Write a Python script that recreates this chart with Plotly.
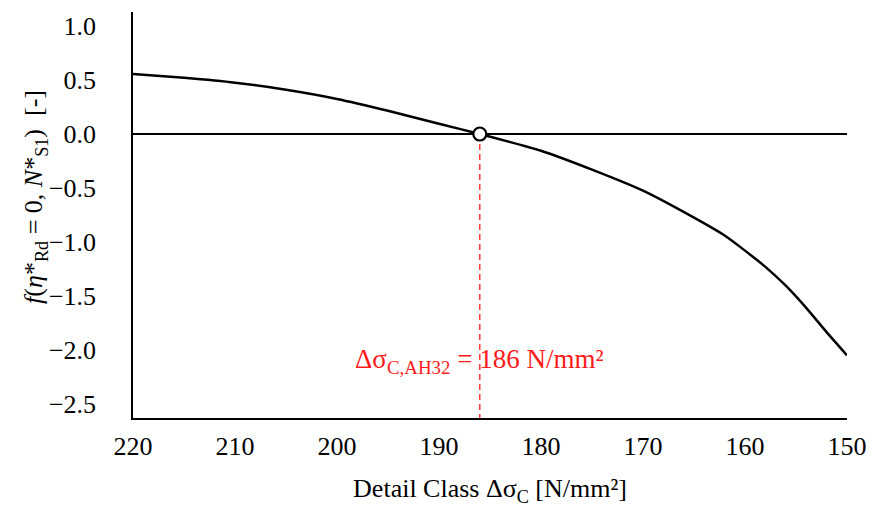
import plotly.graph_objects as go

# Detail class (N/mm^2) and the resulting function value
detail_class = [220, 215, 210, 205, 200, 195, 190, 186, 180, 175, 170,
                165, 162, 160, 158, 156, 154, 152, 150]
f_value = [0.556, 0.52, 0.475, 0.41, 0.325, 0.215, 0.095, 0.0, -0.155,
           -0.33, -0.525, -0.775, -0.94, -1.08, -1.23, -1.405, -1.61,
           -1.835, -2.05]

# Root of the function: detail class for AH32
root_x = 186
root_y = 0.0

x_ticks = [220, 210, 200, 190, 180, 170, 160, 150]
y_ticks = [1.0, 0.5, 0.0, -0.5, -1.0, -1.5, -2.0, -2.5]

X_RANGE = [220, 150]
Y_RANGE = [-2.63, 1.13]

FONT = "Liberation Serif"
RED = "#ff1a1a"
SIZE = 26

fig = go.Figure()

# Dashed marker line from the root down to the x axis
fig.add_trace(go.Scatter(
    x=[root_x, root_x], y=[root_y, Y_RANGE[0]],
    mode="lines", line=dict(color=RED, width=1.3, dash="6px,4px"),
    hoverinfo="skip", showlegend=False,
))

# Function curve
fig.add_trace(go.Scatter(
    x=detail_class, y=f_value, mode="lines",
    line=dict(color="black", width=2.5, shape="spline", smoothing=0.5),
    showlegend=False,
))

# Root marker
fig.add_trace(go.Scatter(
    x=[root_x], y=[root_y], mode="markers",
    marker=dict(size=13, color="white", line=dict(color="black", width=2.2)),
    showlegend=False,
))

fig.add_annotation(
    x=root_x, y=-1.93, xref="x", yref="y",
    text=f"Δσ<sub>C,AH32</sub> = {root_x} N/mm²",
    showarrow=False, font=dict(family=FONT, size=27, color=RED),
    xanchor="center", yanchor="top",
)

# Y axis title, placed as a rotated annotation
fig.add_annotation(
    x=-0.137, y=0.545, xref="paper", yref="paper",
    text="<i>f</i>(<i>η</i>*<sub>Rd</sub> = 0, <i>N</i>*<sub>S1</sub>)  [-]",
    textangle=-90, showarrow=False, font=dict(family=FONT, size=SIZE),
    xanchor="center", yanchor="middle",
)

fig.update_layout(
    width=872, height=507,
    margin=dict(l=133, r=25, t=12, b=89),
    paper_bgcolor="white", plot_bgcolor="white",
    font=dict(family=FONT, size=SIZE, color="black"),
    xaxis=dict(
        range=X_RANGE, tickvals=x_ticks, ticks="", showgrid=False,
        zeroline=False, showline=True, linecolor="black", linewidth=2,
        tickfont=dict(size=SIZE), ticklabelstandoff=4, automargin=False,
        title=dict(text="Detail Class Δσ<sub>C</sub> [N/mm²]",
                   font=dict(size=SIZE), standoff=19),
    ),
    yaxis=dict(
        range=Y_RANGE, tickvals=y_ticks, tickformat=".1f", ticks="",
        showgrid=False, zeroline=True, zerolinecolor="black",
        zerolinewidth=1.5, showline=True, linecolor="black", linewidth=1.5,
        tickfont=dict(size=SIZE), ticklabelstandoff=30, automargin=False,
    ),
)

fig.write_html("out.html")
